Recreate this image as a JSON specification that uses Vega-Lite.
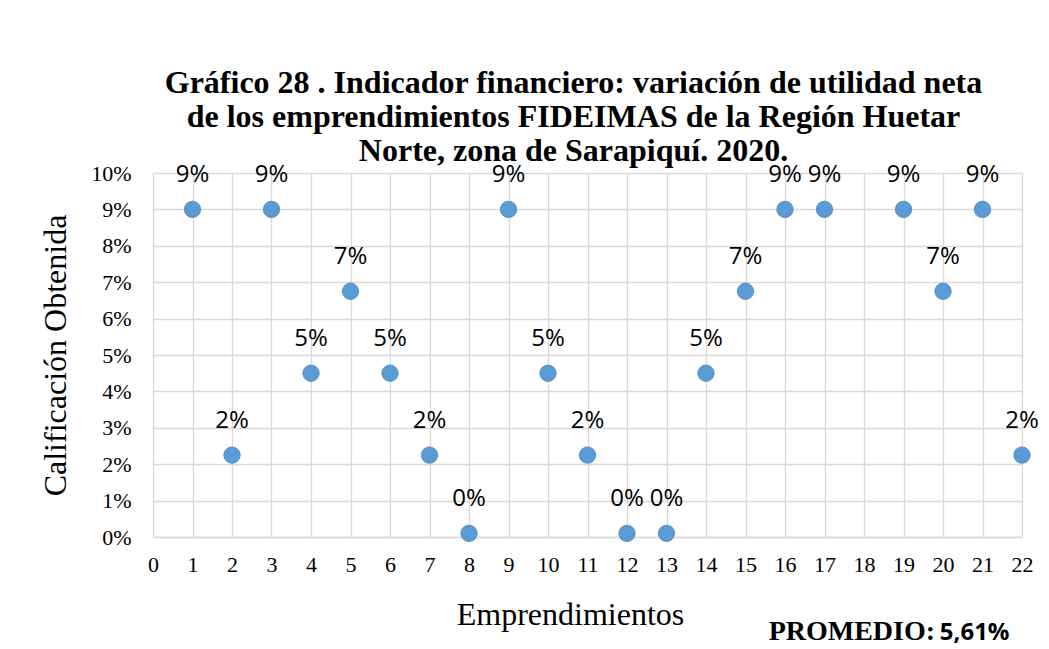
{
  "$schema": "https://vega.github.io/schema/vega-lite/v6.json",
  "width": 869,
  "height": 364,
  "autosize": {"type": "none"},
  "padding": {"left": 153, "top": 173, "right": 27, "bottom": 112},
  "background": "white",
  "config": {"view": {"stroke": null}},
  "title": {
    "text": ["Gráfico 28 . Indicador financiero: variación de utilidad neta", "de los emprendimientos FIDEIMAS de la Región Huetar", "Norte, zona de Sarapiquí. 2020."],
    "font": "Liberation Serif",
    "fontSize": 32,
    "fontWeight": "bold",
    "color": "#000000",
    "lineHeight": 34,
    "anchor": "middle",
    "frame": "group",
    "dx": -14,
    "offset": -6
  },
  "data": {
    "values": [
      {"emp": 1, "valor": 0.09},
      {"emp": 2, "valor": 0.0225},
      {"emp": 3, "valor": 0.09},
      {"emp": 4, "valor": 0.045},
      {"emp": 5, "valor": 0.0675},
      {"emp": 6, "valor": 0.045},
      {"emp": 7, "valor": 0.0225},
      {"emp": 8, "valor": 0.001},
      {"emp": 9, "valor": 0.09},
      {"emp": 10, "valor": 0.045},
      {"emp": 11, "valor": 0.0225},
      {"emp": 12, "valor": 0.001},
      {"emp": 13, "valor": 0.001},
      {"emp": 14, "valor": 0.045},
      {"emp": 15, "valor": 0.0675},
      {"emp": 16, "valor": 0.09},
      {"emp": 17, "valor": 0.09},
      {"emp": 19, "valor": 0.09},
      {"emp": 20, "valor": 0.0675},
      {"emp": 21, "valor": 0.09},
      {"emp": 22, "valor": 0.0225}
    ]
  },
  "encoding": {
    "x": {
      "field": "emp", "type": "quantitative",
      "scale": {"domain": [0, 22], "nice": false, "zero": false},
      "axis": {
        "values": [0,1,2,3,4,5,6,7,8,9,10,11,12,13,14,15,16,17,18,19,20,21,22],
        "title": "Emprendimientos",
        "titleFont": "Liberation Serif", "titleFontSize": 32, "titleFontWeight": "normal", "titleColor": "#000000",
        "titleX": 417, "titleY": 77, "titleBaseline": "middle", "titleAlign": "center",
        "labelFont": "Liberation Serif", "labelFontSize": 22, "labelColor": "#000000",
        "labelPadding": 17, "tickSize": 0, "domainColor": "#d9d9d9", "domainWidth": 1.3,
        "labelFlush": false, "labelOverlap": false,
        "grid": true, "gridColor": "#d9d9d9", "gridWidth": 1.3
      }
    },
    "y": {
      "field": "valor", "type": "quantitative",
      "scale": {"domain": [0, 0.1], "nice": false},
      "axis": {
        "values": [0, 0.01, 0.02, 0.03, 0.04, 0.05, 0.06, 0.07, 0.08, 0.09, 0.1],
        "format": ".0%",
        "title": "Calificación Obtenida",
        "titleFont": "Liberation Serif", "titleFontSize": 32, "titleFontWeight": "normal", "titleColor": "#000000",
        "titleX": -98, "titleY": 182, "titleBaseline": "middle", "titleAlign": "center", "titleAngle": -90,
        "labelFont": "Liberation Serif", "labelFontSize": 22, "labelColor": "#000000",
        "labelPadding": 22, "ticks": false, "domain": false,
        "grid": true, "gridColor": "#d9d9d9", "gridWidth": 1.3, "labelFlush": false, "labelOverlap": false
      }
    }
  },
  "layer": [
    {
      "mark": {"type": "point", "shape": "circle", "filled": true, "size": 270, "color": "#5b9bd5", "opacity": 1, "stroke": "#4a86c0", "strokeWidth": 0.8}
    },
    {
      "mark": {"type": "text", "font": "Open Sans", "fontSize": 24, "color": "#000000", "baseline": "alphabetic", "dy": -27, "align": "center"},
      "encoding": {
        "text": {"field": "valor", "type": "quantitative", "format": ".0%"}
      }
    },
    {
      "data": {"values": [{"emp": 19.8, "valor": -0.0283, "t": "PROMEDIO:"}]},
      "mark": {"type": "text", "font": "Liberation Serif", "fontSize": 28, "fontWeight": "bold", "letterSpacing": 3.5, "color": "#000000", "align": "right", "baseline": "alphabetic"},
      "encoding": {
        "text": {"field": "t"}
      }
    },
    {
      "data": {"values": [{"emp": 19.92, "valor": -0.0283, "t": "5,61%"}]},
      "mark": {"type": "text", "font": "Open Sans", "fontSize": 24, "fontWeight": "bold", "color": "#000000", "align": "left", "baseline": "alphabetic"},
      "encoding": {
        "text": {"field": "t"}
      }
    }
  ]
}
